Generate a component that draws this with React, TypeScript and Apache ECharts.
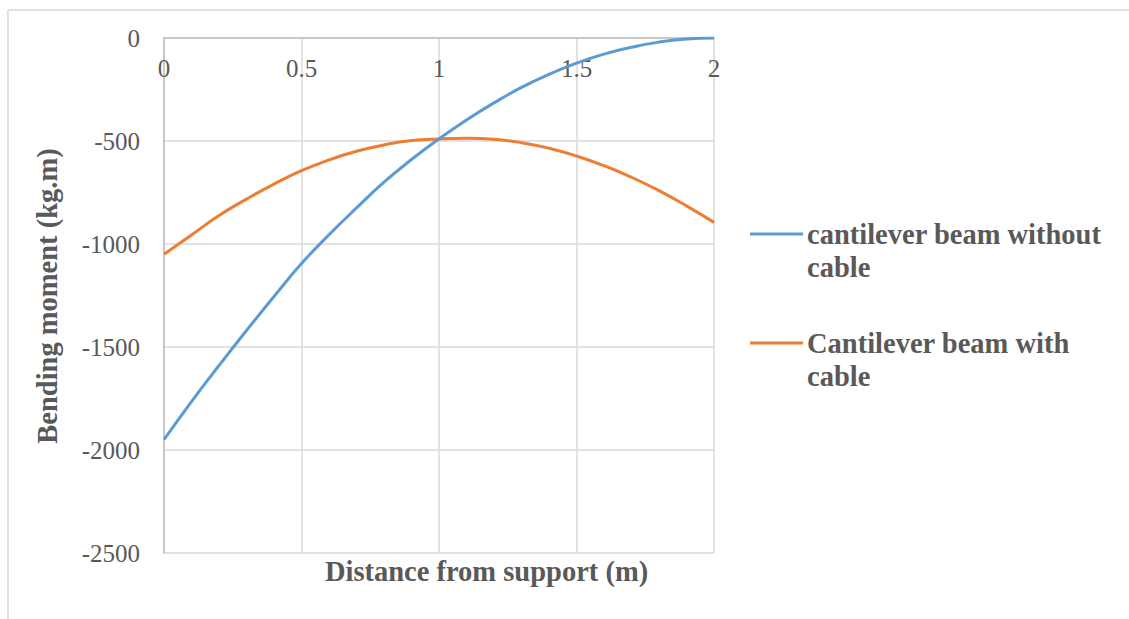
import React, { useEffect, useRef } from "react";
import * as echarts from "echarts";

const distances = [0, 0.1, 0.2, 0.3, 0.4, 0.5, 0.6, 0.7, 0.8, 0.9, 1.0, 1.1, 1.2, 1.3, 1.4, 1.5, 1.6, 1.7, 1.8, 1.9, 2.0];
const withoutCable = [-1950, -1765, -1590, -1420, -1255, -1095, -955, -825, -700, -590, -490, -398, -315, -240, -176, -122, -78, -45, -20, -5, 0];
const withCable = [-1050, -956, -862, -782, -709, -644, -592, -550, -519, -498, -490, -487, -492, -508, -535, -573, -620, -676, -741, -815, -895];
const seriesNames = ["cantilever beam without cable", "Cantilever beam with cable"];
const legendLabels = ["cantilever beam without\ncable", "Cantilever beam with\ncable"];
const colors = ["#5B9BD5", "#ED7D31"];

const FONT = "Liberation Serif";
const TXT = "#595959";

export default function App() {
  const ref = useRef<HTMLDivElement>(null);
  useEffect(() => {
    if (!ref.current) return;
    const chart = echarts.init(ref.current, undefined, { renderer: "svg" });
    const pair = (ys: number[]) => distances.map((x, i) => [x, ys[i]]);
    const titleStyle = { fill: TXT, fontFamily: FONT, fontWeight: "bold", fontSize: 28.5 };
    chart.setOption({
      animation: false,
      backgroundColor: "#ffffff",
      textStyle: { fontFamily: FONT },
      grid: { left: 164, top: 38, width: 550, height: 515, containLabel: false },
      xAxis: {
        type: "value",
        min: 0,
        max: 2,
        interval: 0.5,
        position: "top",
        axisLine: { show: true, onZero: false, lineStyle: { color: "#BFBFBF", width: 1.5 } },
        axisTick: { show: false },
        axisLabel: {
          inside: true,
          margin: 30,
          color: TXT,
          fontFamily: FONT,
          fontSize: 25,
          verticalAlign: "middle",
          formatter: (v: number) => String(v),
        },
        splitLine: { show: true, lineStyle: { color: "#D9D9D9", width: 1.5 } },
      },
      yAxis: {
        type: "value",
        min: -2500,
        max: 0,
        interval: 500,
        axisLine: { show: true, lineStyle: { color: "#BFBFBF", width: 1.5 } },
        axisTick: { show: false },
        axisLabel: { margin: 24, color: TXT, fontFamily: FONT, fontSize: 25, formatter: (v: number) => String(v) },
        splitLine: { show: true, lineStyle: { color: "#D9D9D9", width: 1.5 } },
      },
      series: [
        {
          name: seriesNames[0],
          type: "line",
          data: pair(withoutCable),
          smooth: true,
          showSymbol: false,
          lineStyle: { color: colors[0], width: 3 },
          z: 3,
        },
        {
          name: seriesNames[1],
          type: "line",
          data: pair(withCable),
          smooth: true,
          showSymbol: false,
          lineStyle: { color: colors[1], width: 3 },
          z: 2,
        },
      ],
      graphic: [
        { type: "line", shape: { x1: 8, y1: 10, x2: 1129, y2: 10 }, style: { stroke: "#D9D9D9", lineWidth: 1.5 } },
        { type: "line", shape: { x1: 8, y1: 10, x2: 8, y2: 619 }, style: { stroke: "#D9D9D9", lineWidth: 1.5 } },
        {
          type: "text",
          x: 486.5,
          y: 571.5,
          style: { ...titleStyle, text: "Distance from support (m)", align: "center", verticalAlign: "middle" },
        },
        {
          type: "text",
          x: 47,
          y: 296,
          rotation: Math.PI / 2,
          style: { ...titleStyle, text: "Bending moment (kg.m)", align: "center", verticalAlign: "middle" },
        },
        ...legendLabels.flatMap((lab, i) => {
          const y = i === 0 ? 234 : 343;
          return [
            { type: "line", shape: { x1: 750, y1: y, x2: 803, y2: y }, style: { stroke: colors[i], lineWidth: 3 } },
            {
              type: "text",
              x: 807,
              y: y - 16.5,
              style: { ...titleStyle, text: lab, lineHeight: 33, align: "left", verticalAlign: "top" },
            },
          ];
        }),
      ],
    });
    return () => chart.dispose();
  }, []);
  return <div ref={ref} style={{ position: "fixed", left: 0, top: 0, width: 1129, height: 619 }} />;
}
